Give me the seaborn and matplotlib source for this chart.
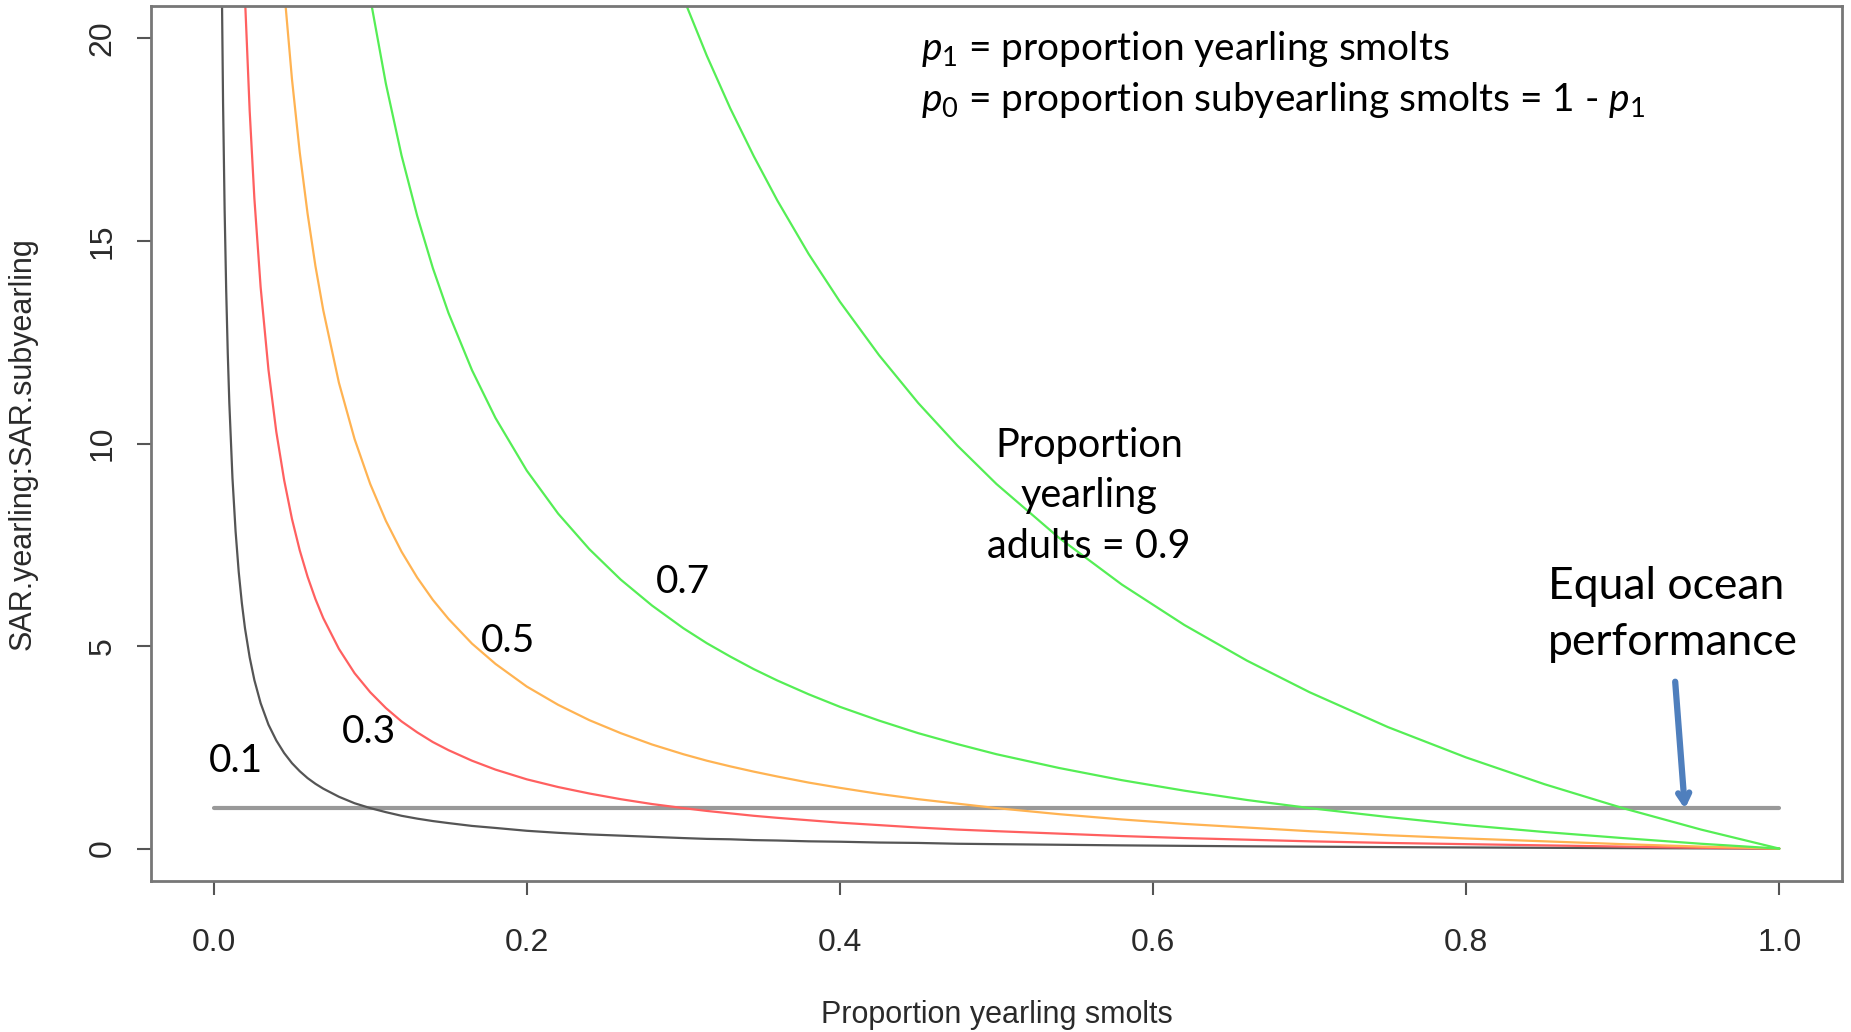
import numpy as np
import matplotlib
matplotlib.use("Agg")
import matplotlib.pyplot as plt
import seaborn as sns

# proportion yearling smolts (shared x grid)
p1 = [0.003, 0.004, 0.005, 0.006, 0.007, 0.008, 0.009, 0.010, 0.012, 0.014,
      0.016, 0.018, 0.020, 0.023, 0.026, 0.030, 0.035, 0.040, 0.045, 0.050,
      0.055, 0.060, 0.065, 0.070, 0.080, 0.090, 0.100, 0.110, 0.120, 0.130,
      0.140, 0.150, 0.165, 0.180, 0.200, 0.220, 0.240, 0.260, 0.280, 0.300,
      0.315, 0.330, 0.345, 0.360, 0.380, 0.400, 0.425, 0.450, 0.475, 0.500,
      0.540, 0.580, 0.620, 0.660, 0.700, 0.750, 0.800, 0.850, 0.900, 0.950,
      1.000]

nan = np.nan
# SAR.yearling:SAR.subyearling (labelled by proportion
# yearling adults); nan where the curve is far above the plot
ratio_01 = [36.92, 27.67, 22.11, 18.41, 15.76, 13.78, 12.23, 11.00, 9.15, 7.83,
            6.83, 6.06, 5.44, 4.72, 4.16, 3.59, 3.06, 2.67, 2.36, 2.11,
            1.91, 1.74, 1.60, 1.48, 1.28, 1.12, 1.00, 0.90, 0.81, 0.74,
            0.68, 0.63, 0.56, 0.51, 0.44, 0.39, 0.35, 0.32, 0.29, 0.26,
            0.24, 0.23, 0.21, 0.20, 0.18, 0.17, 0.15, 0.14, 0.12, 0.11,
            0.095, 0.080, 0.068, 0.057, 0.048, 0.037, 0.028, 0.020, 0.012, 0.006,
            0.0]
ratio_03 = [nan] * 8 + [
            35.28, 30.18,
            26.36, 23.38, 21.00, 18.21, 16.05, 13.86, 11.82, 10.29, 9.10, 8.14,
            7.36, 6.71, 6.16, 5.69, 4.93, 4.33, 3.86, 3.47, 3.14, 2.87,
            2.63, 2.43, 2.17, 1.95, 1.71, 1.52, 1.36, 1.22, 1.10, 1.00,
            0.93, 0.87, 0.81, 0.76, 0.70, 0.64, 0.58, 0.52, 0.47, 0.43,
            0.37, 0.31, 0.26, 0.22, 0.18, 0.14, 0.11, 0.08, 0.05, 0.02,
            0.0]
ratio_05 = [nan] * 15 + [
            32.33, 27.57, 24.00, 21.22, 19.00,
            17.18, 15.67, 14.38, 13.29, 11.50, 10.11, 9.00, 8.09, 7.33, 6.69,
            6.14, 5.67, 5.06, 4.56, 4.00, 3.55, 3.17, 2.85, 2.57, 2.33,
            2.17, 2.03, 1.90, 1.78, 1.63, 1.50, 1.35, 1.22, 1.11, 1.00,
            0.85, 0.72, 0.61, 0.52, 0.43, 0.33, 0.25, 0.18, 0.11, 0.05,
            0.0]
ratio_07 = [nan] * 24 + [
            26.83, 23.59, 21.00, 18.88, 17.11, 15.62,
            14.33, 13.22, 11.81, 10.63, 9.33, 8.27, 7.39, 6.64, 6.00, 5.44,
            5.07, 4.74, 4.43, 4.15, 3.81, 3.50, 3.16, 2.85, 2.58, 2.33,
            1.99, 1.69, 1.43, 1.20, 1.00, 0.78, 0.58, 0.41, 0.26, 0.12,
            0.0]
ratio_09 = [nan] * 38 + [
            23.14, 21.00,
            19.57, 18.27, 17.09, 16.00, 14.68, 13.50, 12.18, 11.00, 9.95, 9.00,
            7.67, 6.52, 5.52, 4.64, 3.86, 3.00, 2.25, 1.59, 1.00, 0.47,
            0.0]

curve_labels = ["0.1", "0.3", "0.5", "0.7"]
label_x = [0.014, 0.099, 0.188, 0.300]
label_y = [2.17, 2.89, 5.13, 6.58]

equal_x = [0.0, 1.0]
equal_y = [1.0, 1.0]

sns.set_style("white")
plt.rcParams["font.family"] = ["Liberation Sans", "DejaVu Sans"]
plt.rcParams["mathtext.fontset"] = "custom"
plt.rcParams["mathtext.it"] = "Lato:italic"
plt.rcParams["mathtext.rm"] = "Lato"

fig = plt.figure(figsize=(18.51, 10.32), dpi=100)
ax = fig.add_axes([0.0816, 0.1463, 0.9135, 0.8479])

series = [
    (ratio_01, "#555555"),
    (ratio_03, "#ff6060"),
    (ratio_05, "#ffb352"),
    (ratio_07, "#55ee55"),
    (ratio_09, "#55ee55"),
]
sns.lineplot(x=equal_x, y=equal_y, color="#999999", lw=3, ax=ax)
for ys, col in series:
    sns.lineplot(x=p1, y=ys, color=col, lw=1.6, ax=ax, sort=False)

ax.set_xlim(-0.04, 1.04)
ax.set_ylim(-0.8, 20.8)
ax.set_xticks([0.0, 0.2, 0.4, 0.6, 0.8, 1.0])
ax.set_xticklabels(["0.0", "0.2", "0.4", "0.6", "0.8", "1.0"])
ax.set_yticks([0, 5, 10, 15, 20])
ax.set_yticklabels(["0", "5", "10", "15", "20"], rotation=90, va="center")
ax.tick_params(axis="both", direction="out", length=10, width=1.5,
               bottom=True, left=True,
               color="#555555", labelsize=23, labelcolor="#2a2a2a")
ax.tick_params(axis="x", pad=24)
ax.tick_params(axis="y", pad=14)
for s in ax.spines.values():
    s.set_color("#777777")
    s.set_linewidth(2)

ax.set_xlabel("Proportion yearling smolts", fontsize=22, color="#2a2a2a",
              labelpad=30)
ax.set_ylabel("SAR.yearling:SAR.subyearling", fontsize=22, color="#2a2a2a",
              labelpad=36)

txt = dict(family="Lato", color="black")
for lab, x, y in zip(curve_labels, label_x, label_y):
    ax.text(x, y, lab, fontsize=28, ha="center", va="center", **txt)

ax.text(0.559, 8.71, "Proportion\nyearling\nadults = 0.9", fontsize=28.5,
        ha="center", va="center", linespacing=1.45, **txt)
ax.text(0.852, 5.77, "Equal ocean\nperformance", fontsize=32,
        ha="left", va="center", linespacing=1.45, **txt)

ax.text(0.452, 19.75, r"$p_{\mathit{1}}$ = proportion yearling smolts",
        fontsize=28, ha="left", va="center", **txt)
ax.text(0.452, 18.47,
        r"$p_{\mathit{0}}$ = proportion subyearling smolts = 1 - $p_{\mathit{1}}$",
        fontsize=28, ha="left", va="center", **txt)

ax.annotate("", xy=(0.9397, 0.98), xytext=(0.9335, 4.12),
            arrowprops=dict(arrowstyle="->,head_length=0.7,head_width=0.4",
                            color="#4f7fbd", lw=4.5, shrinkA=0, shrinkB=0))

fig.savefig("out.png", dpi=100)
